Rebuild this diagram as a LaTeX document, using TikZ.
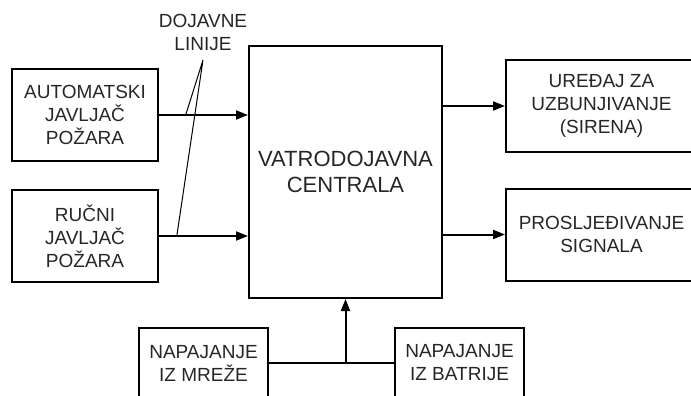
\documentclass[tikz,border=0pt]{standalone}
\usepackage{fontspec}
\setmainfont{Liberation Sans}
\usetikzlibrary{arrows.meta, positioning}
\tikzset{
  block/.style={rectangle, draw=black, line width=2pt, minimum width=146pt, minimum height=92pt,
    text centered, align=center, text=black!85, font=\fontsize{19}{23}\selectfont},
  central/.style={block, minimum width=193pt, minimum height=252pt, font=\fontsize{22}{25.5}\selectfont},
  power/.style={block, minimum width=129pt, minimum height=70pt},
  arr/.style={-{Triangle[length=12pt, width=9pt]}, line width=2pt, draw=black},
  wire/.style={line width=2pt, draw=black},
  thin/.style={line width=1pt, draw=black},
  tag/.style={align=center, text=black!85, font=\fontsize{19}{23}\selectfont},
}
\begin{document}
\begin{tikzpicture}[x=1pt, y=-1pt, node distance=27pt]
  \useasboundingbox (0,0) rectangle (691,396);
  \clip (0,0) rectangle (691,396);

  \node[central] (vdc) at (345.5,172) {VATRODOJAVNA\\CENTRALA};
  \node[block] (auto) at (85,115) {AUTOMATSKI\\JAVLJAČ\\POŽARA};
  \node[block, below=of auto] (rucni) {RUČNI\\JAVLJAČ\\POŽARA};
  \node[block, minimum width=191pt] (sirena) at (601.5,106) {UREĐAJ ZA\\UZBUNJIVANJE\\(SIRENA)};
  \node[block, minimum width=191pt] (signal) at (601.5,234.5) {PROSLJEĐIVANJE\\SIGNALA};
  \node[power] (mreza) at (203.5,363) {NAPAJANJE\\IZ MREŽE};
  \node[power] (baterija) at (459.5,363) {NAPAJANJE\\IZ BATRIJE};
  \node[tag] (linije) at (203,32.5) {DOJAVNE\\LINIJE};
  \coordinate (vrh) at (203,60);
  \coordinate (spoj) at (vdc.south |- mreza.east);

  \draw[arr] (auto.east) -- coordinate[pos=0.3] (t1) (auto.east -| vdc.west);
  \draw[arr] (rucni.east) -- coordinate[pos=0.2] (t2) (rucni.east -| vdc.west);
  \draw[arr] (sirena.west -| vdc.east) -- (sirena.west);
  \draw[arr] (signal.west -| vdc.east) -- (signal.west);
  \draw[wire] (mreza.east) -- (baterija.west);
  \draw[arr] (spoj) -- (vdc.south);
  \draw[thin] (t1) -- (vrh) -- (t2);
\end{tikzpicture}
\end{document}
